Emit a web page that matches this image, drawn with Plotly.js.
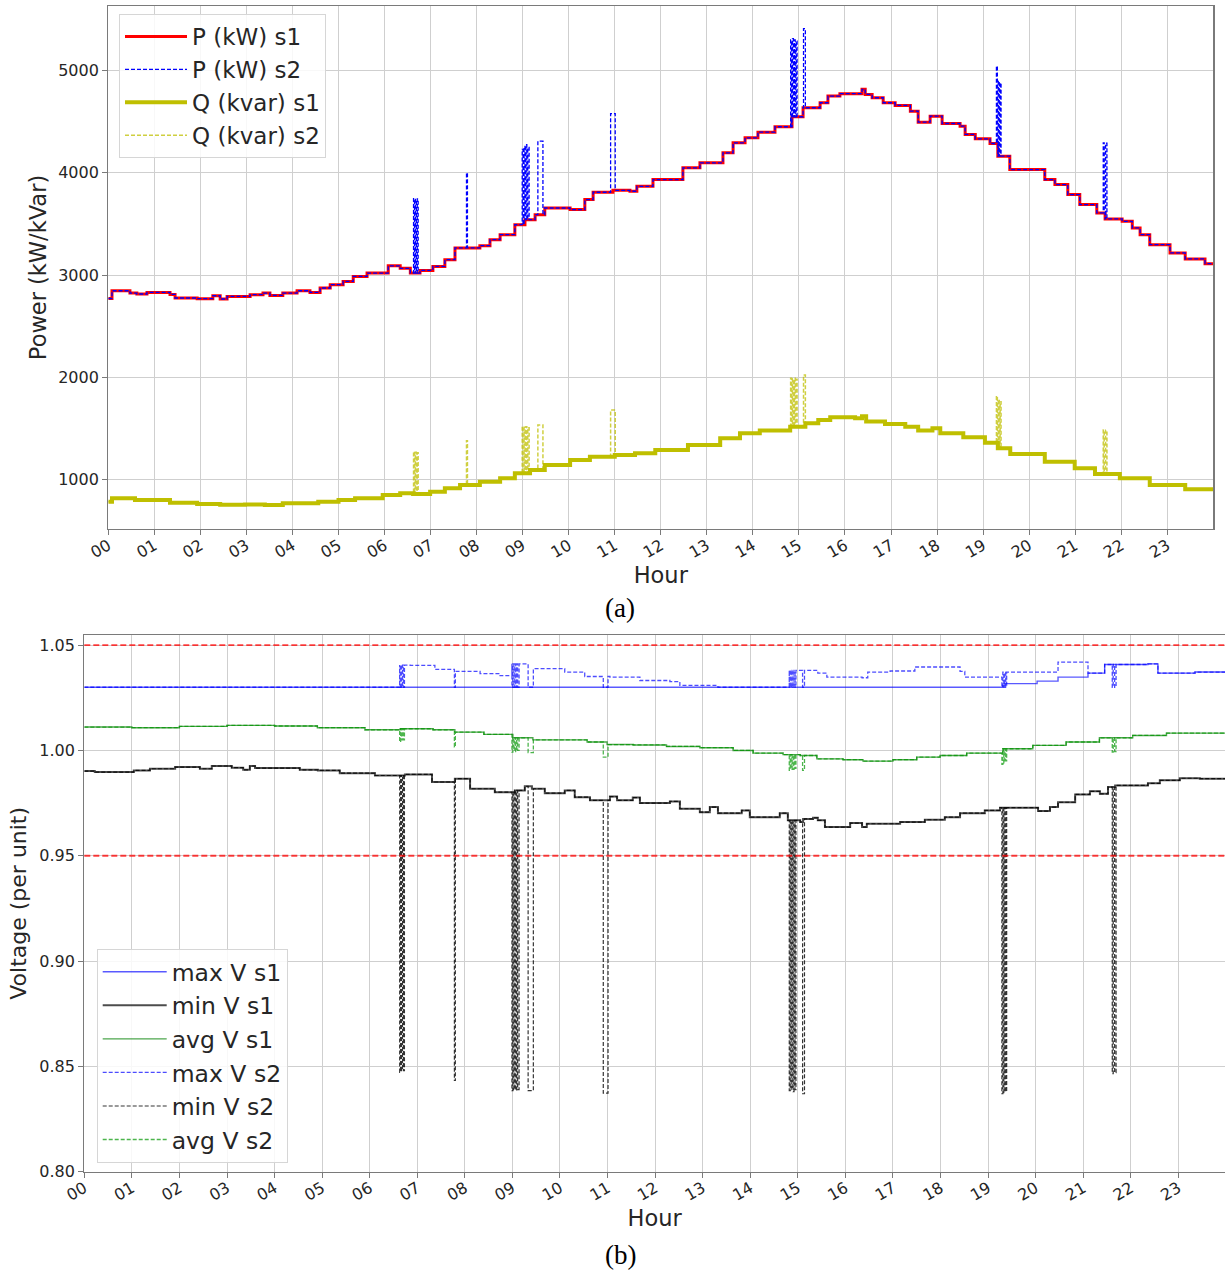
<!DOCTYPE html>
<html>
<head>
<meta charset="utf-8">
<script src="https://cdn.plot.ly/plotly-3.0.1.min.js"></script>
<style>html,body{margin:0;padding:0;background:#fff;}#chart{width:1225px;height:1274px;}</style>
</head>
<body>
<div id="chart"></div>
<script>
// ---------- data (hours of day) ----------
const hourTicks = [0,1,2,3,4,5,6,7,8,9,10,11,12,13,14,15,16,17,18,19,20,21,22,23];
const hourLabels = ['00','01','02','03','04','05','06','07','08','09','10','11','12','13','14','15','16','17','18','19','20','21','22','23'];

// (a) active power, scenario 1 (step changes)
const hoursP = [0,0.08,0.47,0.62,0.84,1.34,1.45,1.93,2.27,2.43,2.58,3.08,3.36,3.51,3.79,4.10,4.38,4.60,4.82,5.10,5.32,5.62,6.08,6.34,6.56,6.77,7.05,7.31,7.53,8.07,8.29,8.51,8.83,9.05,9.27,9.48,10.03,10.35,10.53,10.96,11.33,11.48,11.83,12.48,12.85,13.35,13.57,13.83,14.11,14.48,14.85,15.09,15.46,15.63,15.89,16.37,16.44,16.59,16.83,17.09,17.42,17.59,17.85,18.11,18.50,18.61,18.83,19.15,19.32,19.58,20.34,20.56,20.84,21.10,21.47,21.65,22.02,22.24,22.41,22.62,23.06,23.39,23.82,24];
const pS1 = [2770,2846,2823,2814,2830,2810,2775,2768,2797,2765,2790,2808,2823,2800,2823,2846,2830,2873,2905,2937,2986,3019,3090,3065,3019,3045,3084,3150,3265,3287,3346,3395,3493,3542,3591,3656,3640,3738,3810,3829,3820,3868,3934,4049,4098,4196,4294,4343,4398,4451,4549,4637,4686,4751,4775,4817,4768,4735,4686,4660,4604,4496,4555,4483,4457,4376,4333,4287,4163,4032,3934,3885,3787,3689,3608,3549,3525,3461,3395,3297,3216,3157,3111,3111];

// (a) reactive power, scenario 1
const hoursQ = [0,0.08,0.58,1.34,1.93,2.43,2.97,3.4,3.79,4.56,5.0,5.36,5.96,6.34,6.62,6.99,7.31,7.64,8.07,8.51,8.83,9.16,9.48,10.03,10.46,11.0,11.44,11.88,12.59,13.29,13.72,14.15,14.81,15.14,15.42,15.68,16.22,16.37,16.46,16.87,17.31,17.59,17.9,18.07,18.57,19.04,19.32,19.59,20.34,20.99,21.43,21.97,22.62,23.39,24];
const qS1 = [780,814,797,771,758,752,755,748,765,780,797,814,846,863,856,879,912,944,977,1010,1059,1091,1140,1189,1222,1238,1255,1287,1336,1402,1451,1477,1516,1550,1581,1608,1597,1617,1565,1542,1516,1477,1500,1451,1412,1359,1304,1248,1173,1108,1052,1010,944,902,902];

// (b) voltages, scenario 1
const hoursMaxV1 = [0,19.31,19.35,20.03,20.47,21.1,21.45,22.36,22.57,23.35,24];
const maxV1 = [1.030,1.0309,1.0317,1.0329,1.0348,1.0367,1.0408,1.0411,1.0367,1.0372,1.0372];

const hoursMinV = [0,0.22,1.04,1.38,1.91,2.43,2.68,3.1,3.34,3.48,3.59,4.53,4.91,5.37,6.11,6.74,7.31,7.79,8.11,8.63,9.05,9.26,9.41,9.68,10.1,10.31,10.63,11.05,11.2,11.53,11.68,12.31,12.52,12.94,13.15,13.32,13.82,13.99,14.62,14.79,15.05,15.11,15.32,15.42,15.57,16.1,16.35,16.45,17.15,17.67,18.09,18.41,18.93,19.25,20.05,20.3,20.47,20.83,21.14,21.35,21.52,21.67,22.36,22.61,23.03,23.45,24];
const minV1 = [0.9902,0.9897,0.9905,0.9913,0.9921,0.9913,0.9926,0.9918,0.9908,0.9926,0.9916,0.9908,0.9905,0.9892,0.9881,0.9886,0.9850,0.9866,0.9818,0.9802,0.9810,0.9830,0.9818,0.9797,0.9810,0.9778,0.9763,0.9781,0.9763,0.9776,0.9750,0.9758,0.9723,0.9707,0.9731,0.9702,0.9715,0.9683,0.9702,0.9668,0.9660,0.9675,0.9680,0.9668,0.9636,0.9655,0.9636,0.9652,0.9660,0.9671,0.9683,0.9702,0.9715,0.9728,0.9712,0.9731,0.9754,0.9791,0.9806,0.9794,0.9826,0.9834,0.9844,0.9858,0.9868,0.9866,0.9866];

const hoursAvgV = [0,1.0,2.0,3.0,4.0,4.9,5.9,6.64,7.33,7.79,8.4,9.01,9.43,10.0,10.57,10.99,11.54,12.24,12.94,13.64,14.06,14.69,15.05,15.4,15.95,16.37,17.0,17.5,17.99,18.55,19.31,19.94,20.64,21.34,22.04,22.75,24];
const avgV1 = [1.0111,1.0108,1.0114,1.0119,1.0116,1.0108,1.0098,1.0103,1.0098,1.0087,1.0076,1.0060,1.0050,1.0050,1.0040,1.0028,1.0026,1.0019,1.0013,1.0000,0.9987,0.9980,0.9976,0.9960,0.9956,0.9949,0.9956,0.9968,0.9976,0.9987,1.0008,1.0024,1.0040,1.0060,1.0071,1.0082,1.0098];

// (b) max voltage, scenario 2 (between switching events)
const hoursMaxV2 = [0,6.63,6.85,7.37,7.79,8.32,8.74,8.99,9.43,10.1,10.52,11.05,11.68,12.31,12.52,13.32,14.82,15.42,15.61,16.35,16.47,16.94,17.46,18.41,18.51,19.31,20.47,21.1,21.45,22.36,22.57,23.35,24];
const maxV2 = [1.030,1.0405,1.0404,1.0385,1.0375,1.0365,1.0355,1.0411,1.0388,1.0372,1.0351,1.0348,1.0332,1.0327,1.0309,1.0300,1.038,1.0367,1.0348,1.0345,1.0372,1.0377,1.0396,1.0375,1.0348,1.0372,1.0419,1.0367,1.0408,1.0411,1.0367,1.0372,1.0372];

// scenario 2 transient spikes (start/end hour and the value reached)
const spikeStart = [6.63,6.67,6.71,7.78,8.99,9.03,9.07,9.11,9.33,10.91,14.82,14.86,14.90,14.94,15.10,19.29,19.33,19.37,21.61,21.66];
const spikeEnd   = [6.65,6.69,6.73,7.80,9.01,9.05,9.09,9.14,9.44,11.01,14.84,14.88,14.92,14.96,15.14,19.31,19.35,19.39,21.63,21.69];
const spikeP = [3748,3740,3745,4000,4230,4260,4277,4250,4310,4580,5300,5314,5300,5290,5412,5045,4900,4880,4294,4290];
const spikeQ = [1271,1265,1260,1378,1516,1510,1516,1505,1532,1679,1990,1985,1990,1980,2022,1817,1780,1760,1483,1480];
const spikeMaxV = [1.030,1.030,1.030,1.030,1.030,1.030,1.030,1.030,1.030,1.030,1.030,1.030,1.030,1.030,1.030,1.030,1.030,1.030,1.030,1.030];
const spikeMinV = [0.8472,0.848,0.848,0.8433,0.8385,0.839,0.8385,0.839,0.8385,0.8373,0.8385,0.839,0.838,0.839,0.837,0.837,0.8375,0.838,0.8465,0.847];
const spikeAvgV = [1.004,1.005,1.005,1.0016,0.9992,1.000,0.9995,1.000,0.999,0.9968,0.9905,0.991,0.991,0.9915,0.9905,0.9934,0.994,0.995,0.9992,0.9995];

const voltageLimits = [1.05, 0.95];

// ---------- helpers ----------
function baseAt(hs, vs, t){ let v = vs[0]; for(let i=0;i<hs.length;i++){ if(hs[i] <= t) v = vs[i]; } return v; }
function withSpikes(hs, vs, peaks){
  const pts = [];
  hs.forEach((h,i)=>{
    const inside = spikeStart.some((s,k)=> h > s && h < spikeEnd[k]);
    if(!inside) pts.push({h:h, v:vs[i], o:0});
  });
  spikeStart.forEach((s,k)=>{
    pts.push({h:s, v:peaks[k], o:1});
    pts.push({h:spikeEnd[k], v:baseAt(hs, vs, spikeEnd[k]), o:2});
  });
  pts.sort((a,b)=> a.h - b.h || a.o - b.o);
  return {x: pts.map(p=>p.h), y: pts.map(p=>p.v)};
}

const P2 = withSpikes(hoursP, pS1, spikeP);
const Q2 = withSpikes(hoursQ, qS1, spikeQ);
const MAX2 = withSpikes(hoursMaxV2, maxV2, spikeMaxV);
const MIN2 = withSpikes(hoursMinV, minV1, spikeMinV);
const AVG2 = withSpikes(hoursAvgV, avgV1, spikeAvgV);

const dashS = '4px,2px';
const traces = [
  {x:hoursP, y:pS1, name:'P (kW) s1', mode:'lines', line:{color:'#ff0000', width:3, shape:'hv'}, xaxis:'x', yaxis:'y', legend:'legend'},
  {x:P2.x, y:P2.y, name:'P (kW) s2', mode:'lines', line:{color:'#0000ff', width:1.3, dash:dashS, shape:'hv'}, xaxis:'x', yaxis:'y', legend:'legend'},
  {x:hoursQ, y:qS1, name:'Q (kvar) s1', mode:'lines', line:{color:'#bfbf00', width:4, shape:'hv'}, xaxis:'x', yaxis:'y', legend:'legend'},
  {x:Q2.x, y:Q2.y, name:'Q (kvar) s2', mode:'lines', line:{color:'rgba(191,191,0,0.75)', width:1.5, dash:dashS, shape:'hv'}, xaxis:'x', yaxis:'y', legend:'legend'},

  {x:hoursMaxV1, y:maxV1, name:'max V s1', mode:'lines', line:{color:'rgba(0,0,255,0.65)', width:1.4, shape:'hv'}, xaxis:'x2', yaxis:'y2', legend:'legend2'},
  {x:hoursMinV, y:minV1, name:'min V s1', mode:'lines', line:{color:'rgba(0,0,0,0.7)', width:2, shape:'hv'}, xaxis:'x2', yaxis:'y2', legend:'legend2'},
  {x:hoursAvgV, y:avgV1, name:'avg V s1', mode:'lines', line:{color:'rgba(0,128,0,0.7)', width:1.4, shape:'hv'}, xaxis:'x2', yaxis:'y2', legend:'legend2'},
  {x:MAX2.x, y:MAX2.y, name:'max V s2', mode:'lines', line:{color:'rgba(0,0,255,0.7)', width:1.3, dash:dashS, shape:'hv'}, xaxis:'x2', yaxis:'y2', legend:'legend2'},
  {x:MIN2.x, y:MIN2.y, name:'min V s2', mode:'lines', line:{color:'rgba(0,0,0,0.8)', width:1.2, dash:dashS, shape:'hv'}, xaxis:'x2', yaxis:'y2', legend:'legend2'},
  {x:AVG2.x, y:AVG2.y, name:'avg V s2', mode:'lines', line:{color:'rgba(0,150,0,0.7)', width:1.3, dash:dashS, shape:'hv'}, xaxis:'x2', yaxis:'y2', legend:'legend2'}
];

const W = 1225, H = 1274;
const font = 'DejaVu Sans, sans-serif';
const tickFont = {family:font, size:16, color:'#262626'};
const titleFont = {family:font, size:22.5, color:'#262626'};
const gridC = '#cfcfcf';
const lineC = '#7a7a7a';

const xCommon = {
  tickmode:'array', tickvals:hourTicks, ticktext:hourLabels, tickangle:-30,
  showgrid:true, gridcolor:gridC, gridwidth:1, zeroline:false,
  showline:true, linecolor:lineC, linewidth:1.2,
  ticks:'outside', ticklen:5, tickcolor:lineC, tickfont:tickFont, ticklabelstandoff:-5
};

const layout = {
  width:W, height:H, margin:{l:0,r:0,t:0,b:0},
  paper_bgcolor:'#ffffff', plot_bgcolor:'#ffffff',
  font:{family:font, color:'#262626'},
  xaxis: Object.assign({}, xCommon, {domain:[108.3/W, 1213.3/W], range:[0,24], anchor:'y', mirror:true,
    title:{text:'Hour', font:titleFont, standoff:1}}),
  yaxis: {domain:[(H-529)/H, (H-6)/H], range:[514,5633], anchor:'x', tickvals:[1000,2000,3000,4000,5000],
    showgrid:true, gridcolor:gridC, zeroline:false, showline:true, mirror:true, linecolor:lineC, linewidth:1.2,
    ticks:'outside', ticklen:5, tickcolor:lineC, tickfont:tickFont,
    title:{text:'Power (kW/kVar)', font:titleFont, standoff:5}},
  xaxis2: Object.assign({}, xCommon, {domain:[84.3/W, 1], range:[0,23.98], anchor:'y2', mirror:true,
    title:{text:'Hour', font:titleFont, standoff:1}}),
  yaxis2: {domain:[(H-1171.7)/H, (H-635)/H], range:[0.80,1.0548], anchor:'x2', tickvals:[0.80,0.85,0.90,0.95,1.00,1.05], tickformat:'.2f',
    showgrid:true, gridcolor:gridC, zeroline:false, showline:true, mirror:false, linecolor:lineC, linewidth:1.2,
    ticks:'outside', ticklen:5, tickcolor:lineC, tickfont:tickFont,
    title:{text:'Voltage (per unit)', font:{family:font, size:22, color:'#262626'}, standoff:6}},
  legend: {x:119/W, y:1-14/H, xanchor:'left', yanchor:'top', bgcolor:'rgba(255,255,255,0.85)', bordercolor:'#d6d6d6', borderwidth:1,
    font:{family:font, size:23, color:'#262626'}, itemwidth:62, tracegroupgap:0},
  legend2: {x:96.7/W, y:1-949/H, xanchor:'left', yanchor:'top', bgcolor:'rgba(255,255,255,0.85)', bordercolor:'#d6d6d6', borderwidth:1,
    font:{family:font, size:23.5, color:'#262626'}, itemwidth:64, tracegroupgap:0},
  shapes: voltageLimits.map(v=>({type:'line', xref:'x2 domain', x0:0, x1:1, yref:'y2', y0:v, y1:v,
    line:{color:'rgba(255,0,0,0.75)', width:1.8, dash:'6px,3px'}, layer:'above'})),
  annotations: [
    {text:'(a)', xref:'paper', yref:'paper', x:620/W, y:1-608/H, xanchor:'center', yanchor:'middle', showarrow:false,
     font:{family:'Liberation Serif, Times New Roman, serif', size:27, color:'#000'}},
    {text:'(b)', xref:'paper', yref:'paper', x:620/W, y:1-1255/H, xanchor:'center', yanchor:'middle', showarrow:false,
     font:{family:'Liberation Serif, Times New Roman, serif', size:27, color:'#000'}}
  ],
  showlegend:true
};

Plotly.newPlot('chart', traces, layout, {staticPlot:true, displayModeBar:false});
</script>
</body>
</html>
